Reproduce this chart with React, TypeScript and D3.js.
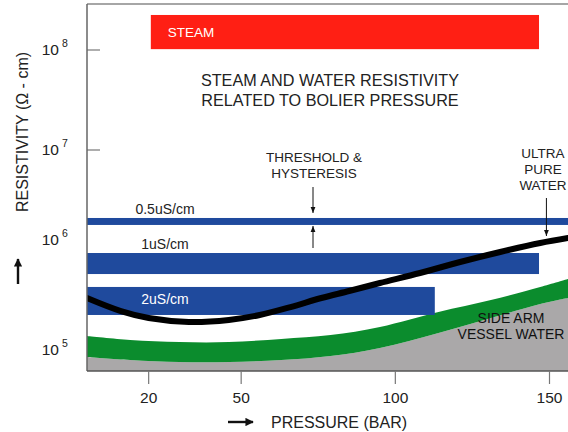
import * as d3 from 'd3';

const W = 568;
const H = 432;

const pressureTicks = [20, 50, 100, 150];
const decades = [5, 6, 7, 8];

// ultra pure water curve: pressure (bar) -> resistivity (ohm-cm)
const pureP = [0, 11, 20, 33, 46, 56, 66, 76, 85, 95, 108, 121, 134, 147, 156];
const pureR = [331000, 245000, 209000, 191000, 200000, 224000, 269000, 331000, 389000, 468000, 589000, 759000, 955000, 1175000, 1318000];

// side arm vessel water band
const vesselP = [0, 14, 30, 46, 63, 79, 95, 114, 131, 147, 156];
const vesselHi = [138000, 126000, 120000, 120000, 129000, 141000, 170000, 240000, 316000, 427000, 513000];
const vesselLo = [85100, 79400, 75900, 75900, 79400, 87100, 105000, 148000, 209000, 288000, 331000];

// conductivity threshold bands
const bandLabels = ['0.5uS/cm', '1uS/cm', '2uS/cm'];
const bandHi = [2090000, 933000, 427000];
const bandLo = [1780000, 575000, 224000];
const bandEnd = [156, 146.6, 112.8];

const steamP = [20.7, 146.6];
const steamR = [102000000, 224000000];

const titleLines = ['STEAM AND WATER RESISTIVITY', 'RELATED TO BOLIER PRESSURE'];
const thresholdLines = ['THRESHOLD &', 'HYSTERESIS'];
const pureLines = ['ULTRA', 'PURE', 'WATER'];
const vesselLines = ['SIDE ARM', 'VESSEL WATER'];

const FONT = '"Liberation Sans", Arial, Helvetica, sans-serif';
const BLUE = '#1f4a9d';

export default function App() {
  const x = d3.scaleLinear().domain([0, 156]).range([87, 568]);
  const y = d3.scaleLog().domain([10 ** 4.79, 10 ** 8.46]).range([371, 4]);
  const bottom = y.range()[0];

  const pure = d3
    .line<number>()
    .x((_, i) => x(pureP[i]))
    .y(d => y(d))
    .curve(d3.curveCatmullRom);

  const gray = d3
    .area<number>()
    .x((_, i) => x(vesselP[i]))
    .y0(bottom)
    .y1(d => y(d))
    .curve(d3.curveCatmullRom);

  const green = d3
    .area<number>()
    .x((_, i) => x(vesselP[i]))
    .y0((_, i) => y(vesselLo[i]))
    .y1(d => y(d))
    .curve(d3.curveCatmullRom);

  const tX = x(73.3);
  const pX = x(149);

  return (
    <svg width={W} height={H} style={{ position: 'absolute', left: 0, top: 0 }} fontFamily={FONT}>
      <defs>
        <clipPath id="plot">
          <rect x={87} y={4} width={W - 87} height={bottom - 4} />
        </clipPath>
        <marker id="head" viewBox="0 0 10 10" refX="10" refY="5" markerWidth="6" markerHeight="6" orient="auto">
          <path d="M0,1 L10,5 L0,9 Z" fill="#111" />
        </marker>
        <marker id="bighead" viewBox="0 0 10 10" refX="9" refY="5" markerWidth="3.5" markerHeight="3.5" orient="auto">
          <path d="M0,0 L10,5 L0,10 Z" fill="#111" />
        </marker>
      </defs>

      {decades
        .filter(e => e !== 6)
        .map(e => (
          <line key={e} x1={87} x2={100} y1={y(10 ** e)} y2={y(10 ** e)} stroke="#777" strokeWidth={1.2} />
        ))}

      <g clipPath="url(#plot)">
        <path d={gray(vesselLo) ?? ''} fill="#aaa8a9" />
        <path d={green(vesselHi) ?? ''} fill="#0b8c2d" />
        {bandLabels.map((b, i) => (
          <rect
            key={b}
            x={x(0)}
            y={y(bandHi[i])}
            width={x(bandEnd[i]) - x(0)}
            height={y(bandLo[i]) - y(bandHi[i])}
            fill={BLUE}
          />
        ))}
        <path d={pure(pureR) ?? ''} fill="none" stroke="#000" strokeWidth={6} strokeLinecap="round" />
        <rect
          x={x(steamP[0])}
          y={y(steamR[1])}
          width={x(steamP[1]) - x(steamP[0])}
          height={y(steamR[0]) - y(steamR[1])}
          fill="#ff1f14"
        />
      </g>

      {/* frame */}
      <line x1={87} y1={4} x2={W} y2={4} stroke="#888" strokeWidth={1.5} />
      <line x1={87} y1={4} x2={87} y2={bottom} stroke="#666" strokeWidth={1.5} />
      <line x1={87} y1={bottom} x2={W} y2={bottom} stroke="#555" strokeWidth={1.5} />

      {decades.map(e => (
        <g key={e}>
          <text x={59} y={y(10 ** e) + (e === 6 ? -10 : 0)} dy="0.35em" fontSize={15.5} textAnchor="end" fill="#222">
            10
          </text>
          <text x={62} y={y(10 ** e) + (e === 6 ? -10 : 0) - 7} dy="0.35em" fontSize={10.5} fill="#222">
            {e}
          </text>
        </g>
      ))}

      {pressureTicks.map(p => (
        <g key={p}>
          <line x1={x(p)} x2={x(p)} y1={bottom} y2={bottom + 13} stroke="#777" strokeWidth={1.2} />
          <text x={x(p)} y={398} dy="0.35em" fontSize={15.5} textAnchor="middle" fill="#222">
            {p}
          </text>
        </g>
      ))}

      {/* axis titles */}
      <text transform="translate(22,132) rotate(-90)" dy="0.35em" fontSize={16} textAnchor="middle" fill="#222">
        RESISTIVITY (Ω - cm)
      </text>
      <line x1={18} y1={284} x2={18} y2={259} stroke="#111" strokeWidth={2.4} markerEnd="url(#bighead)" />
      <line x1={228} y1={422} x2={253} y2={422} stroke="#111" strokeWidth={2.4} markerEnd="url(#bighead)" />
      <text x={271} y={422} dy="0.35em" fontSize={16} fill="#222">
        PRESSURE (BAR)
      </text>

      {/* annotations */}
      <text x={x(steamP[0]) + 17} y={32} dy="0.35em" fontSize={13.5} fill="#fff">
        STEAM
      </text>
      {titleLines.map((t, i) => (
        <text key={t} x={330} y={80 + i * 20} dy="0.35em" fontSize={16.2} textAnchor="middle" fill="#222">
          {t}
        </text>
      ))}
      {bandLabels.map((b, i) => (
        <text
          key={b}
          x={x(25.3)}
          y={i < 2 ? y(bandHi[i]) - 9 : (y(bandHi[i]) + y(bandLo[i])) / 2 - 2}
          dy="0.35em"
          fontSize={14}
          textAnchor="middle"
          fill={i < 2 ? '#222' : '#fff'}
        >
          {b}
        </text>
      ))}
      {thresholdLines.map((t, i) => (
        <text key={t} x={tX + 1} y={157 + i * 16} dy="0.35em" fontSize={13.5} textAnchor="middle" fill="#222">
          {t}
        </text>
      ))}
      <line x1={tX} y1={187} x2={tX} y2={y(bandHi[0]) - 5} stroke="#111" strokeWidth={1} markerEnd="url(#head)" />
      <line x1={tX} y1={248} x2={tX} y2={y(bandLo[0]) + 1} stroke="#111" strokeWidth={1} markerEnd="url(#head)" />

      {pureLines.map((t, i) => (
        <text key={t} x={543} y={153 + i * 16} dy="0.35em" fontSize={13.5} textAnchor="middle" fill="#222">
          {t}
        </text>
      ))}
      <line x1={pX} y1={198} x2={pX} y2={236} stroke="#111" strokeWidth={1} markerEnd="url(#head)" />

      {vesselLines.map((t, i) => (
        <text key={t} x={511} y={318 + i * 16} dy="0.35em" fontSize={14} textAnchor="middle" fill="#111">
          {t}
        </text>
      ))}
    </svg>
  );
}
